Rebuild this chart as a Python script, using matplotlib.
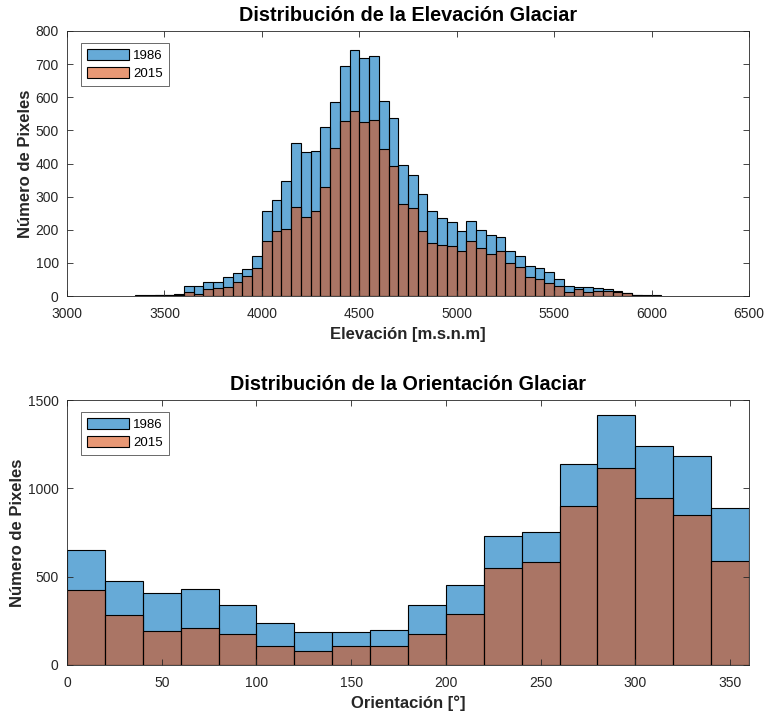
import numpy as np
import matplotlib
matplotlib.use("Agg")
import matplotlib.pyplot as plt

plt.rcParams['font.family'] = ['Liberation Sans', 'DejaVu Sans']

# Elevation histogram (bin width 50 m, left edges from 3350)
elev_left = np.arange(3350, 6001, 50)
elev_1986 = [2, 2, 3, 3, 6, 31, 31, 43, 41, 56, 70, 83, 121, 256, 291, 348, 461, 434,
             437, 509, 586, 694, 743, 718, 726, 589, 538, 395, 364, 307, 256, 234, 222,
             196, 227, 199, 183, 177, 135, 120, 91, 85, 72, 51, 31, 28, 26, 23, 20, 16,
             10, 3, 2, 2]
elev_2015 = [1, 1, 2, 2, 4, 13, 6, 20, 23, 26, 41, 61, 85, 165, 196, 203, 269, 238,
             257, 330, 447, 529, 558, 526, 532, 443, 392, 279, 266, 196, 161, 155, 152,
             136, 165, 145, 126, 136, 101, 88, 57, 50, 38, 31, 12, 20, 13, 16, 15, 13,
             8, 2, 1, 1]

# Aspect histogram (bin width 20 deg)
ori_left = np.arange(0, 341, 20)
ori_1986 = [651, 478, 408, 431, 337, 239, 186, 186, 200, 341, 454, 730, 753, 1135,
            1415, 1242, 1182, 890]
ori_2015 = [422, 282, 192, 211, 175, 109, 79, 109, 109, 173, 290, 550, 582, 902,
            1116, 945, 849, 587]

blue = (0.0, 0.447, 0.741, 0.6)
orange = (0.85, 0.325, 0.098, 0.6)
dark = (0.15, 0.15, 0.15)

W, H = 767, 714
fig = plt.figure(figsize=(W / 100, H / 100), dpi=100)
ax1 = fig.add_axes([67 / W, 1 - 296 / H, 682 / W, 265 / H])
ax2 = fig.add_axes([67 / W, 1 - 665 / H, 682 / W, 265 / H])


def draw(ax, left, width, a, b):
    ax.bar(left, a, width=width, align='edge', color=blue, edgecolor='black',
           linewidth=0.8, label='1986')
    ax.bar(left, b, width=width, align='edge', color=orange, edgecolor='black',
           linewidth=0.8, label='2015')


def style(ax, title, xlabel):
    ax.set_title(title, fontsize=14.3, fontweight='bold', pad=7)
    ax.set_xlabel(xlabel, fontsize=12, fontweight='bold', color=dark, labelpad=4)
    ax.set_ylabel('Número de Pixeles', fontsize=12, fontweight='bold', color=dark, labelpad=2)
    ax.tick_params(direction='in', top=True, right=True, length=4, width=0.6,
                   labelsize=10, colors=dark, labelcolor=dark)
    ax.tick_params(axis='x', pad=8)
    ax.tick_params(axis='y', pad=6)
    for s in ax.spines.values():
        s.set_color(dark)
        s.set_linewidth(0.6)
    leg = ax.legend(loc='upper left', bbox_to_anchor=(14 / 682, 1 - 12 / 265),
                    borderaxespad=0, fontsize=9.5, frameon=True, fancybox=False,
                    handlelength=3.2, handleheight=0.95, labelspacing=0.33,
                    handletextpad=0.3, borderpad=0.45)
    leg.get_frame().set_edgecolor(dark)
    leg.get_frame().set_linewidth(0.6)


draw(ax1, elev_left, 50, elev_1986, elev_2015)
ax1.set_xlim(3000, 6500)
ax1.set_ylim(0, 800)
ax1.set_xticks(np.arange(3000, 6501, 500))
ax1.set_yticks(np.arange(0, 801, 100))
style(ax1, 'Distribución de la Elevación Glaciar', 'Elevación [m.s.n.m]')

draw(ax2, ori_left, 20, ori_1986, ori_2015)
ax2.set_xlim(0, 360)
ax2.set_ylim(0, 1500)
ax2.set_xticks(np.arange(0, 351, 50))
ax2.set_yticks(np.arange(0, 1501, 500))
style(ax2, 'Distribución de la Orientación Glaciar', 'Orientación [°]')

fig.savefig('out.png', dpi=100)
